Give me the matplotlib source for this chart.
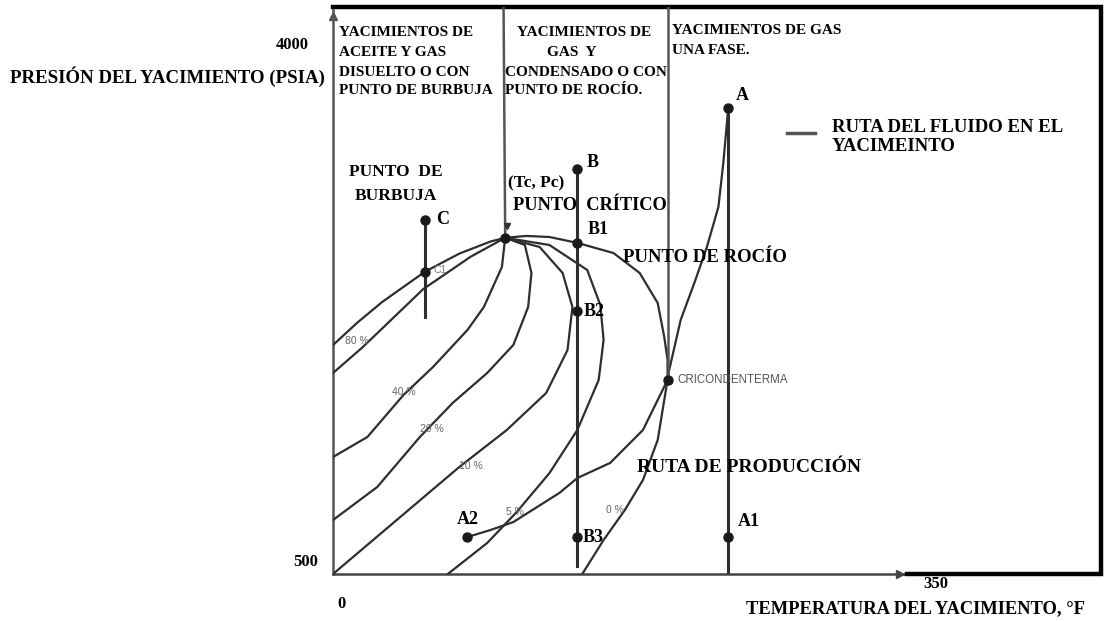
import matplotlib.pyplot as plt
from matplotlib.lines import Line2D

# Phase envelope and quality lines: temperature (°F) vs pressure (psia)
bubble_t = [0, 15, 30, 56, 77, 96, 105]
bubble_p = [2015, 2165, 2300, 2500, 2620, 2700, 2725]

q80_t = [0, 18, 55, 84, 105]
q80_p = [1830, 2000, 2385, 2600, 2725]

q40_t = [0, 21, 43, 61, 82, 92, 103, 105]
q40_p = [1274, 1407, 1685, 1870, 2115, 2267, 2532, 2725]

q20_t = [0, 27, 53, 73, 94, 110, 119, 121, 117, 105]
q20_p = [857, 1076, 1407, 1632, 1830, 2016, 2267, 2492, 2677, 2725]

q10_t = [0, 41, 77, 106, 130, 143, 146, 140, 126, 105]
q10_p = [500, 877, 1208, 1453, 1698, 1982, 2267, 2492, 2664, 2725]

q5_t = [70, 94, 112, 132, 149, 162, 165, 163, 155, 132, 105]
q5_p = [500, 705, 910, 1168, 1453, 1784, 2049, 2280, 2512, 2677, 2725]

dew_t = [105, 118, 132, 149, 171, 187, 198, 202, 204, 204,
         202, 198, 189, 178, 165, 152]
dew_p = [2725, 2737, 2730, 2691, 2624, 2492, 2293, 2068, 1916, 1784,
         1652, 1387, 1122, 924, 725, 500]

# Path from A through the cricondentherm down to A2
path_t = [241, 238, 235, 228, 221, 212, 205, 204, 189, 169, 149, 138, 110, 96, 82]
path_p = [3584, 3220, 2929, 2664, 2446, 2181, 1850, 1784, 1453, 1235, 1135,
          1036, 844, 791, 745]

# Reservoir depletion paths (isothermal)
line_a = (241, 3584, 500)
line_b = (149, 3180, 553)
line_c = (56, 2843, 2203)

# Region dividers (temperature, lower end pressure)
dividers = [(104, 105, 2725), (204, 204, 1784)]

# Named points
point_names = ["A", "A1", "A2", "B", "B1", "B2", "B3", "C", "C1", "Crit", "Cric"]
point_t = [241, 241, 82, 149, 149, 149, 149, 56, 56, 105, 204]
point_p = [3584, 745, 745, 3180, 2693, 2240, 745, 2843, 2499, 2725, 1784]

quality_labels = ["80 %", "40 %", "20 %", "10 %", "5 %", "0 %"]

X_MAX, Y_MIN, Y_MAX = 468.3, 500, 4252
W, H = 1104, 621
LC = "#2e2e2e"
SERIF = ["Liberation Serif", "DejaVu Serif"]
SANS = ["Liberation Sans", "DejaVu Sans"]


def fp(x, y):
    """Image pixel position to figure fraction."""
    return x / W, 1 - y / H


def main() -> int:
    fig = plt.figure(figsize=(W / 100, H / 100), dpi=100)
    ax = fig.add_axes([333 / W, (H - 574) / H, (1101 - 333) / W, (574 - 7) / H])
    ax.set_xlim(0, X_MAX)
    ax.set_ylim(Y_MIN, Y_MAX)
    ax.set_xticks([])
    ax.set_yticks([])
    for s in ax.spines.values():
        s.set_visible(False)

    # Frame: thin axes with arrows, thick box elsewhere
    ax.plot([0, 0], [Y_MIN, Y_MAX - 20], color="#555555", lw=1.8, clip_on=False)
    ax.plot([0, 350], [Y_MIN, Y_MIN], color="#444444", lw=1.8, clip_on=False)
    ax.plot([0], [Y_MAX - 60], marker="^", color="#555555", ms=6, clip_on=False)
    ax.plot([346], [Y_MIN], marker=">", color="#444444", ms=6, clip_on=False)
    ax.plot([0, X_MAX, X_MAX, 350], [Y_MAX, Y_MAX, Y_MIN, Y_MIN],
            color="black", lw=3.2, clip_on=False, solid_joinstyle="miter")

    kw = dict(color=LC, lw=1.6, solid_joinstyle="round", solid_capstyle="round")
    for t, p in [(bubble_t, bubble_p), (q80_t, q80_p), (q40_t, q40_p),
                 (q20_t, q20_p), (q10_t, q10_p), (q5_t, q5_p),
                 (dew_t, dew_p), (path_t, path_p)]:
        ax.plot(t, p, **kw)

    for t, top, bottom in (line_a, line_b, line_c):
        ax.plot([t, t], [top, bottom], color=LC, lw=2.2)
    for t0, t1, p_low in dividers:
        ax.plot([t0, t1], [Y_MAX, p_low], color="#555555", lw=1.8)

    ax.plot(point_t, point_p, "o", color="#1a1a1a", ms=6.5, ls="none")
    ax.plot([106], [2800], marker="v", color="#333333", ms=5)

    # Legend dash
    fig.add_artist(Line2D([787 / W, 815 / W], [1 - 133 / H] * 2,
                          color="#555555", lw=2.5))

    def txt(x, y, s, size=12.5, ha="left", family=SERIF, color="black",
            weight="bold"):
        fig.text(*fp(x, y), s, ha=ha, va="center", fontsize=size,
                 family=family, color=color, weight=weight)

    # Axis texts
    txt(309, 45, "4000", 12, ha="right")
    txt(10, 77, "PRESIÓN DEL YACIMIENTO (PSIA)", 13.6)
    txt(318, 562, "500", 12, ha="right")
    txt(342, 604, "0", 12, ha="center")
    txt(936, 584, "350", 12, ha="center")
    txt(746, 609, "TEMPERATURA DEL YACIMIENTO, °F", 13.3)

    # Region headers
    rs = 11
    for y, s in zip([33, 52, 72, 90], ["YACIMIENTOS DE", "ACEITE Y GAS",
                                      "DISUELTO O CON", "PUNTO DE BURBUJA"]):
        txt(339, y, s, rs)
    txt(584, 33, "YACIMIENTOS DE", rs, ha="center")
    txt(572, 53, "GAS  Y", rs, ha="center")
    txt(505, 72, "CONDENSADO O CON", rs)
    txt(505, 90, "PUNTO DE ROCÍO.", rs)
    txt(672, 31, "YACIMIENTOS DE GAS", rs)
    txt(672, 51, "UNA FASE.", rs)

    # Point labels
    txt(736, 95, "A", 13)
    txt(832, 127, "RUTA DEL FLUIDO EN EL", 13.5)
    txt(832, 147, "YACIMEINTO", 13.5)
    txt(587, 162, "B", 13)
    txt(508, 183, "(Tc, Pc)", 12.5)
    txt(513, 206, "PUNTO  CRÍTICO", 13.2)
    txt(588, 229, "B1", 13)
    txt(623, 257, "PUNTO DE ROCÍO", 13.5)
    txt(349, 172, "PUNTO  DE", 12.5)
    txt(355, 196, "BURBUJA", 12.5)
    txt(436, 220, "C", 13)
    txt(434, 270, "C1", 7.5, family=SANS, color="#777777", weight="normal")
    txt(584, 311, "B2", 13)
    txt(637, 467, "RUTA DE PRODUCCIÓN", 14)
    txt(457, 519, "A2", 13)
    txt(583, 537, "B3", 13)
    txt(738, 521, "A1", 13)
    txt(677, 380, "CRICONDENTERMA", 8.3, family=SANS, color="#555555",
        weight="normal")

    for (x, y), s in zip([(345, 341), (392, 392), (420, 429), (459, 466),
                          (506, 512), (606, 510)], quality_labels):
        txt(x, y, s, 7.5, family=SANS, color="#666666", weight="normal")

    fig.savefig("out.png", dpi=100, facecolor="white")
    return 0


if __name__ == "__main__":
    raise SystemExit(main())
